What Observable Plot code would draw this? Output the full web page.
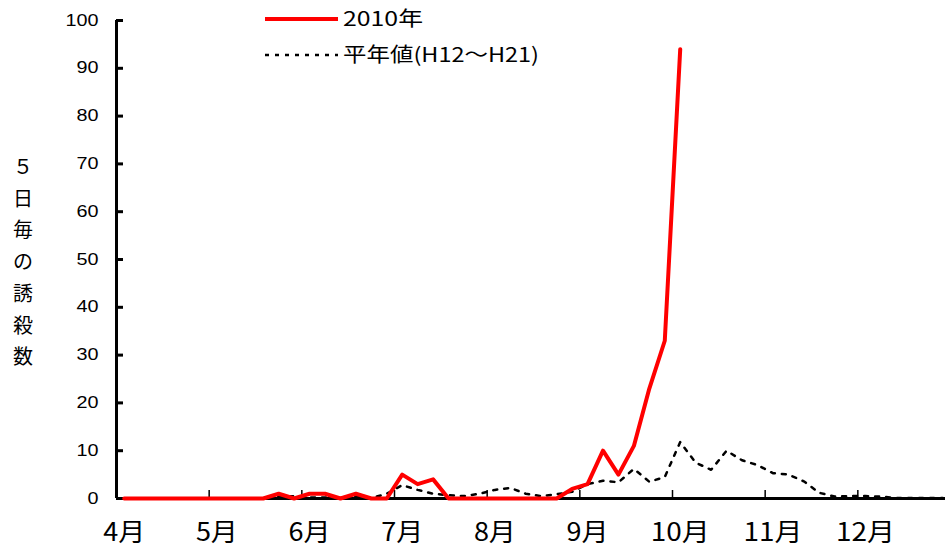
<!DOCTYPE html>
<html><head><meta charset="utf-8">
<script src="https://cdn.jsdelivr.net/npm/d3@7"></script>
<script src="https://cdn.jsdelivr.net/npm/@observablehq/plot@0.6"></script>
<style>
body{margin:0;background:#fff;}
#wrap{position:relative;width:945px;height:552px;overflow:hidden;background:#fff;}
#ytitle{position:absolute;left:10px;top:150px;width:26px;text-align:center;font-family:"Noto Sans CJK JP",sans-serif;font-size:20px;line-height:31.7px;color:#000;}
#legend{position:absolute;left:0;top:0;}
</style></head><body>
<div id="wrap">
<div id="chart"></div>
<div id="ytitle">５<br>日<br>毎<br>の<br>誘<br>殺<br>数</div>
<svg id="legend" width="560" height="75" font-family="'Noto Sans CJK JP', sans-serif" font-size="20">
  <line x1="265" x2="338" y1="19" y2="19" stroke="#ff0000" stroke-width="4"/>
  <text x="343" y="19" dy="0.36em" textLength="80" lengthAdjust="spacingAndGlyphs">2010年</text>
  <line x1="265" x2="338" y1="55" y2="55" stroke="#000" stroke-width="2.5" stroke-dasharray="4,6"/>
  <text x="343" y="55" dy="0.36em" textLength="196" lengthAdjust="spacingAndGlyphs">平年値(H12～H21)</text>
</svg>
</div>
<script>
const monthLabels = ["4月","5月","6月","7月","8月","9月","10月","11月","12月"];
const yTicks = [0,10,20,30,40,50,60,70,80,90,100];
// 5-day periods, 6 per month, starting April period 1
const y2010 = [0,0,0,0,0,0, 0,0,0,0,1,0, 1,1,0,1,0,0, 5,3,4,0,0,0, 0,0,0,0,0,2, 3,10,5,11,23,33, 94];
const yNormal = [0,0,0,0,0,0, 0,0,0,0,0.4,0.5, 0.2,0.2,0.2,0.3,0.1,1.0, 2.8,1.8,1.0,0.7,0.5,1.0,
  1.8,2.2,1.0,0.5,0.9,1.4, 3.0,3.7,3.4,6.2,3.5,4.5, 11.8,7.5,6.0,10.0,8.0,7.0,
  5.3,5.0,3.6,1.2,0.4,0.5, 0.5,0.4,0.1,0.1,0.1,0.1];

const red = y2010.map((v,i)=>({i, v}));
const nor = yNormal.map((v,i)=>({i, v}));
const monthStarts = monthLabels.map((m,k)=>k*6);

const chart = Plot.plot({
  width: 945, height: 552,
  marginLeft: 116, marginRight: 0, marginTop: 20, marginBottom: 54,
  x: {domain: [0, 54], range: [116, 950], axis: null},
  y: {domain: [0, 100], axis: null},
  style: {background: "#fff", fontFamily: "'Liberation Sans', 'Noto Sans CJK JP', sans-serif", color: "#000"},
  marks: [
    Plot.ruleY([0], {stroke: "#000", strokeWidth: 3}),
    Plot.ruleX([0], {stroke: "#000", strokeWidth: 3}),
    Plot.tickX(monthStarts, {x: d => d, insetTop: 470, stroke: "#000", strokeWidth: 1.5}),
    Plot.tickY(yTicks, {y: d => d, insetRight: 822, stroke: "#000", strokeWidth: 3}),
    Plot.text(yTicks, {y: d => d, frameAnchor: "left", dx: -18, textAnchor: "end", text: d => String(d), fontSize: 16, fill: "#000"}),
    Plot.text(monthLabels, {x: (d, k) => k * 6 + 0.5, frameAnchor: "bottom", dy: 42, text: d => d, fontSize: 25, fill: "#000", fontFamily: "'Noto Sans CJK JP', sans-serif"}),
    Plot.line(nor, {x: d => d.i + 0.5, y: "v", stroke: "#000", strokeWidth: 2.5, strokeDasharray: "4,7"}),
    Plot.line(red, {x: d => d.i + 0.5, y: "v", stroke: "#ff0000", strokeWidth: 4})
  ]
});
// widen glyphs to match the reference's stretched lettering
d3.select(chart).selectAll("text").each(function() {
  const t = this.textContent;
  if (!t) return;
  const digits = t.replace("月", "").length;
  const len = t.includes("月") ? digits * 17 + 25 : digits * 11;
  this.setAttribute("textLength", len);
  this.setAttribute("lengthAdjust", "spacingAndGlyphs");
});
document.getElementById("chart").appendChild(chart);
</script>
</body></html>
